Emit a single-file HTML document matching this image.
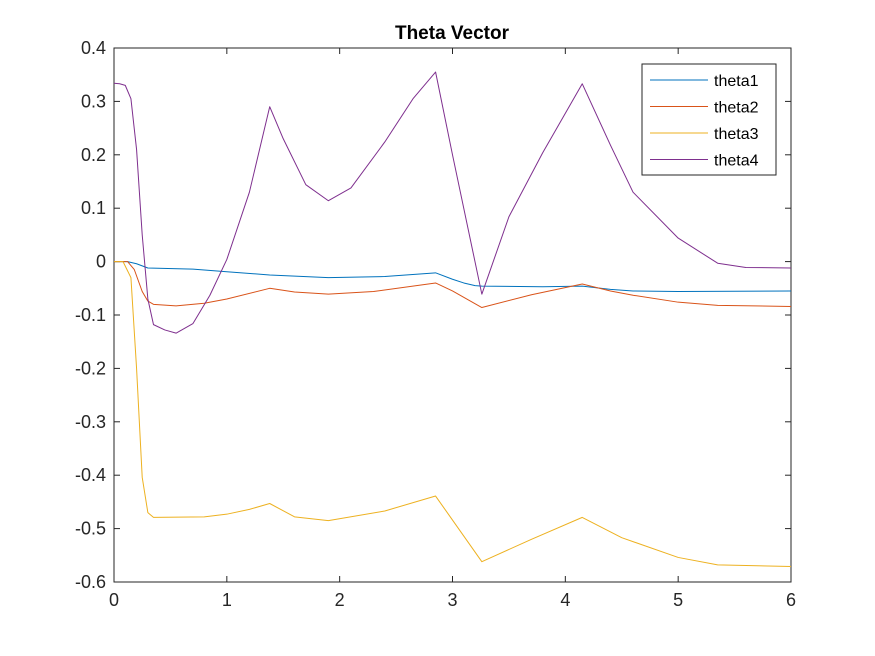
<!DOCTYPE html>
<html><head><meta charset="utf-8"><style>
body{margin:0;background:#fff;}
svg{display:block;font-family:"Liberation Sans",Arial,sans-serif;}
</style></head><body>
<svg id="chart" width="875" height="656">
<rect x="0" y="0" width="875" height="656" fill="#fff"/>
<text x="452" y="39" text-anchor="middle" font-size="19" font-weight="bold" fill="#000">Theta Vector</text>
<g id="axes"></g>
<g id="series"></g>
<g id="legend"></g>
</svg>
<script>
const xTicks=[0,1,2,3,4,5,6];
const yTicks=[0.4,0.3,0.2,0.1,0,-0.1,-0.2,-0.3,-0.4,-0.5,-0.6];
const seriesNames=["theta1","theta2","theta3","theta4"];
const seriesColors=["#0072BD","#D95319","#EDB120","#7E2F8E"];
const theta1X=[0,0.12,0.2,0.3,0.7,1.0,1.38,1.9,2.4,2.85,3.0,3.1,3.2,3.26,3.8,4.15,4.4,4.6,5.0,6];
const theta1Y=[0,0,-0.004,-0.012,-0.014,-0.019,-0.025,-0.030,-0.028,-0.021,-0.033,-0.04,-0.045,-0.046,-0.047,-0.046,-0.052,-0.055,-0.056,-0.055];
const theta2X=[0,0.12,0.18,0.25,0.3,0.35,0.55,0.8,1.0,1.38,1.6,1.9,2.3,2.85,3.0,3.26,3.7,4.15,4.4,4.6,5.0,5.35,6];
const theta2Y=[0,0,-0.015,-0.056,-0.074,-0.08,-0.083,-0.078,-0.07,-0.05,-0.057,-0.061,-0.056,-0.04,-0.055,-0.086,-0.062,-0.042,-0.055,-0.063,-0.076,-0.082,-0.084];
const theta3X=[0,0.08,0.15,0.2,0.25,0.3,0.35,0.8,1.0,1.2,1.38,1.6,1.9,2.4,2.85,3.0,3.26,3.7,4.15,4.5,5.0,5.35,6];
const theta3Y=[0,0,-0.03,-0.2,-0.404,-0.47,-0.479,-0.478,-0.473,-0.464,-0.453,-0.478,-0.485,-0.467,-0.439,-0.484,-0.562,-0.52,-0.479,-0.517,-0.554,-0.568,-0.571];
const theta4X=[0,0.05,0.1,0.15,0.2,0.25,0.3,0.35,0.45,0.55,0.7,0.85,1.0,1.2,1.38,1.5,1.7,1.9,2.1,2.4,2.65,2.85,3.0,3.26,3.5,3.8,4.15,4.4,4.6,5.0,5.35,5.6,6];
const theta4Y=[0.334,0.333,0.33,0.305,0.21,0.05,-0.07,-0.118,-0.128,-0.134,-0.116,-0.063,0.004,0.13,0.29,0.23,0.144,0.114,0.138,0.224,0.305,0.355,0.2,-0.061,0.084,0.204,0.333,0.218,0.13,0.044,-0.003,-0.011,-0.012];
const allX=[theta1X,theta2X,theta3X,theta4X], allY=[theta1Y,theta2Y,theta3Y,theta4Y];
const L=114,R=791,T=48,B=582;
const sx=v=>L+(v-0)/(6-0)*(R-L);
const sy=v=>B-(v+0.6)/(1.0)*(B-T);
const NS="http://www.w3.org/2000/svg";
const ax=document.getElementById('axes');
function mk(tag,attrs,parent){const e=document.createElementNS(NS,tag);for(const k in attrs)e.setAttribute(k,attrs[k]);parent.appendChild(e);return e;}
const box=mk('rect',{x:L,y:T,width:R-L,height:B-T,fill:'none',stroke:'#262626','stroke-width':1},ax);


xTicks.forEach(t=>{const x=sx(t);
 mk('line',{x1:x,x2:x,y1:B,y2:B-6,stroke:'#262626'},ax);
 mk('line',{x1:x,x2:x,y1:T,y2:T+6,stroke:'#262626'},ax);
 const tx=mk('text',{x:x,y:B+24,'text-anchor':'middle','font-size':18,fill:'#262626'},ax);tx.textContent=t;
 
 
});
yTicks.forEach(t=>{const y=sy(t);
 mk('line',{x1:L,x2:L+6,y1:y,y2:y,stroke:'#262626'},ax);
 mk('line',{x1:R,x2:R-6,y1:y,y2:y,stroke:'#262626'},ax);
 const tx=mk('text',{x:L-8,y:y+6,'text-anchor':'end','font-size':18,fill:'#262626'},ax);tx.textContent=(Math.round(t*10)/10).toString();
 
 
});
const sg=document.getElementById('series');
allX.forEach((xs,i)=>{
 const pts=xs.map((x,j)=>sx(x)+','+sy(allY[i][j])).join(' ');
 const p=mk('polyline',{points:pts,fill:'none',stroke:seriesColors[i],'stroke-width':1,'stroke-linejoin':'round'},sg);
 
 
});
const lg=document.getElementById('legend');
mk('rect',{x:642,y:64,width:134,height:111,fill:'#fff',stroke:'#262626'},lg);
seriesNames.forEach((n,i)=>{const y=80+i*26.5;
 const ln=mk('line',{x1:650,x2:708,y1:y,y2:y,stroke:seriesColors[i]},lg);
 
 
 const tx=mk('text',{x:714,y:y+6,'font-size':16,fill:'#000'},lg);tx.textContent=n;
 
 
});
</script>
</body></html>
